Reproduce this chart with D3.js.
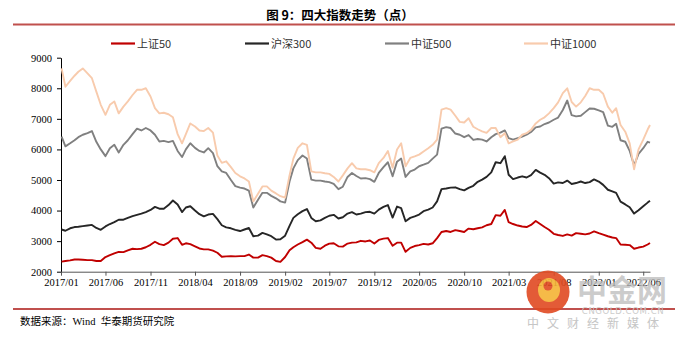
<!DOCTYPE html>
<html><head><meta charset="utf-8">
<script src="https://cdn.jsdelivr.net/npm/d3@7"></script>
<style>
html,body{margin:0;padding:0;background:#fff;}
svg{display:block;}
</style>
</head><body>
<svg id="chart" width="677" height="342"></svg>
<script>
const dates = [
"2017-01-03","2017-01-16","2017-02-01","2017-02-16","2017-03-01","2017-03-16","2017-04-01","2017-04-16","2017-05-01","2017-05-16","2017-06-01","2017-06-16",
"2017-07-01","2017-07-16","2017-08-01","2017-08-16","2017-09-01","2017-09-16","2017-10-01","2017-10-16","2017-11-01","2017-11-16","2017-12-01","2017-12-16",
"2018-01-01","2018-01-16","2018-02-01","2018-02-16","2018-03-01","2018-03-16","2018-04-01","2018-04-16","2018-05-01","2018-05-16","2018-06-01","2018-06-16",
"2018-07-01","2018-07-16","2018-08-01","2018-08-16","2018-09-01","2018-09-16","2018-10-01","2018-10-16","2018-11-01","2018-11-16","2018-12-01","2018-12-16",
"2019-01-01","2019-01-16","2019-02-01","2019-02-16","2019-03-01","2019-03-16","2019-04-01","2019-04-16","2019-05-01","2019-05-16","2019-06-01","2019-06-16",
"2019-07-01","2019-07-16","2019-08-01","2019-08-16","2019-09-01","2019-09-16","2019-10-01","2019-10-16","2019-11-01","2019-11-16","2019-12-01","2019-12-16",
"2020-01-01","2020-01-16","2020-02-01","2020-02-16","2020-03-01","2020-03-16","2020-04-01","2020-04-16","2020-05-01","2020-05-16","2020-06-01","2020-06-16",
"2020-07-01","2020-07-16","2020-08-01","2020-08-16","2020-09-01","2020-09-16","2020-10-01","2020-10-16","2020-11-01","2020-11-16","2020-12-01","2020-12-16",
"2021-01-01","2021-01-16","2021-02-01","2021-02-16","2021-03-01","2021-03-16","2021-04-01","2021-04-16","2021-05-01","2021-05-16","2021-06-01","2021-06-16",
"2021-07-01","2021-07-16","2021-08-01","2021-08-16","2021-09-01","2021-09-16","2021-10-01","2021-10-16","2021-11-01","2021-11-16","2021-12-01","2021-12-16",
"2022-01-01","2022-01-16","2022-02-01","2022-02-16","2022-03-01","2022-03-16","2022-04-01","2022-04-16","2022-05-01","2022-05-16","2022-06-01","2022-06-16",
"2022-06-24"
];

const sz50 = [
2330,2350,2370,2400,2400,2390,2380,2380,2350,2350,2480,2540,
2600,2650,2640,2700,2750,2740,2750,2800,2880,2980,2900,2870,
2950,3080,3100,2880,2930,2900,2830,2760,2730,2730,2690,2620,
2490,2500,2510,2500,2510,2510,2560,2460,2460,2540,2510,2460,
2350,2320,2480,2700,2800,2890,2970,3050,2950,2780,2750,2850,
2920,2930,2830,2820,2920,2950,2960,3010,2990,3020,2920,3040,
3080,3100,2850,2950,2950,2650,2780,2840,2870,2910,2890,2930,
3100,3300,3330,3300,3360,3330,3300,3410,3390,3420,3450,3520,
3560,3850,3830,4020,3620,3560,3510,3480,3460,3530,3660,3560,
3460,3370,3240,3200,3170,3220,3180,3260,3240,3220,3250,3320,
3260,3210,3160,3120,3100,2890,2880,2870,2750,2790,2820,2890,
2940
];
const hs300 = [
3380,3340,3420,3460,3470,3490,3510,3530,3430,3370,3480,3560,
3620,3700,3700,3760,3820,3860,3900,3950,4020,4120,4060,4060,
4180,4330,4200,3950,4100,4140,4000,3880,3810,3870,3890,3720,
3520,3450,3420,3370,3330,3380,3430,3160,3180,3270,3220,3160,
3050,3060,3180,3500,3760,3880,3980,4050,3760,3650,3680,3760,
3830,3860,3740,3780,3900,3950,3870,3900,3950,3960,3900,4030,
4120,4180,3770,4130,4080,3650,3760,3810,3870,3980,4030,4100,
4300,4700,4720,4750,4760,4700,4660,4740,4810,4940,5010,5100,
5250,5580,5550,5780,5170,5030,5080,5120,5080,5160,5330,5240,
5170,5060,4880,4920,4900,4980,4870,4900,4950,4900,4930,5020,
4950,4840,4680,4630,4580,4290,4200,4110,3900,4010,4140,4260,
4320
];
const zz500 = [
6420,6100,6200,6300,6400,6480,6530,6600,6250,6000,5780,6040,
6150,5900,6150,6300,6500,6680,6620,6700,6620,6480,6260,6280,
6240,6280,5950,5750,6000,6200,6050,5950,5900,6040,5880,5450,
5280,5230,5000,4800,4750,4720,4650,4100,4350,4580,4580,4480,
4400,4300,4260,4950,5380,5650,5800,5700,5010,4980,4980,4950,
4930,4870,4700,4780,5100,5230,5130,5050,5060,5030,4940,5230,
5420,5580,5120,5600,5700,5100,5280,5340,5450,5500,5560,5700,
5830,6680,6730,6700,6520,6480,6400,6470,6310,6340,6320,6260,
6400,6500,6550,6620,6370,6320,6370,6420,6480,6570,6720,6750,
6830,6880,6970,7040,7290,7600,7120,7080,7100,7220,7340,7330,
7280,7220,6780,6740,6840,6300,6250,5950,5480,5850,6040,6250,
6220
];
const zz1000 = [
8650,8050,8240,8410,8540,8650,8490,8330,7890,7460,7130,7460,
7570,7180,7400,7570,7780,7950,7950,8000,7730,7350,7180,7200,
7150,7050,6500,6200,6500,6850,6750,6620,6600,6700,6550,5800,
5560,5610,5420,5230,5120,5050,4950,4300,4550,4790,4790,4650,
4560,4470,4420,5150,5700,6050,6200,6150,5280,5250,5250,5220,
5200,5100,4950,5150,5380,5550,5380,5350,5350,5320,5250,5550,
5720,5950,5400,6000,6200,5450,5720,5770,5830,5930,6040,6150,
6320,7300,7350,7300,7100,6900,6880,7020,6740,6660,6590,6540,
6700,6700,6400,6530,6200,6260,6320,6480,6530,6640,6850,6970,
7050,7180,7350,7540,7840,8000,7550,7400,7540,7750,8000,7950,
7950,7820,7400,7200,7350,6800,6580,6200,5350,6000,6320,6650,
6800
];

const seriesNames = ["上证50","沪深300","中证500","中证1000"];
const seriesColors = ["#C00000","#262626","#808080","#F8CBAD"];
const seriesValues = [sz50, hs300, zz500, zz1000];
const yTicks = [2000,3000,4000,5000,6000,7000,8000,9000];
const xTickLabels = ["2017/01","2017/06","2017/11","2018/04","2018/09","2019/02","2019/07","2019/12","2020/05","2020/10","2021/03","2021/08","2022/01","2022/06"];
const titleText = "图 9：四大指数走势（点）";
const sourceText = "数据来源：Wind  华泰期货研究院";

const svg = d3.select("#chart");
const parse = d3.timeParse("%Y-%m-%d");
const parseTick = d3.timeParse("%Y/%m");
const dd = dates.map(parse);

const x = d3.scaleTime().domain([new Date(2017,0,1), new Date(2022,5,24)]).range([61, 650]);
const y = d3.scaleLinear().domain([2000, 9000]).range([271.7, 57.7]);

const ruleColor = "#C0504D";
// title
svg.append("text").attr("x", 340).attr("y", 20).attr("text-anchor","middle")
  .attr("font-family","'Noto Sans CJK SC', sans-serif").attr("font-weight","700")
  .attr("font-size", 12.5).attr("fill","#000").text(titleText);
svg.append("line").attr("x1",13).attr("x2",675).attr("y1",24.5).attr("y2",24.5)
  .attr("stroke", ruleColor).attr("stroke-width",2);

// legend
const legX = [111, 245, 385, 524];
seriesNames.forEach((n,i)=>{
  const g = svg.append("g").attr("transform",`translate(${legX[i]},43.5)`);
  g.append("line").attr("x1",0).attr("x2",24).attr("y1",0).attr("y2",0)
    .attr("stroke", seriesColors[i]).attr("stroke-width",2.2);
  g.append("text").attr("x",26).attr("y",4).attr("font-family","'Noto Sans CJK SC', sans-serif")
    .attr("font-size",11).attr("fill","#333").text(n);
});

// axes
const yAxis = d3.axisLeft(y).tickValues(yTicks).tickSize(4).tickSizeOuter(0).tickPadding(5).tickFormat(d3.format("d"));
const gy = svg.append("g").attr("transform","translate(61,0)").call(yAxis);
gy.selectAll("text").attr("font-family","'Liberation Serif', serif").attr("font-size",10.5).attr("fill","#000");
gy.selectAll("line").attr("stroke","#000");
gy.select(".domain").attr("stroke","#000");

const xAxis = d3.axisBottom(x).tickValues(xTickLabels.map(parseTick)).tickSize(4).tickSizeOuter(0).tickPadding(3)
  .tickFormat((d,i)=>xTickLabels[i]);
const gx = svg.append("g").attr("transform","translate(0,271.7)").call(xAxis);
gx.selectAll("text").attr("font-family","'Liberation Serif', serif").attr("font-size",10.5).attr("fill","#000");
gx.selectAll("line").attr("stroke","#555");
gx.select(".domain").attr("stroke","#555");

// lines
const line = d3.line().x((d,i)=>x(dd[i])).y(d=>y(d));
seriesValues.forEach((vals,i)=>{
  svg.append("path").datum(vals).attr("d", line).attr("fill","none")
    .attr("stroke", seriesColors[i]).attr("stroke-width",1.9).attr("stroke-linejoin","round");
});

// bottom rule + source
svg.append("line").attr("x1",13).attr("x2",675).attr("y1",309).attr("y2",309)
  .attr("stroke", ruleColor).attr("stroke-width",2);
svg.append("text").attr("x",20).attr("y",324.5).attr("font-family","'Liberation Serif','Noto Sans CJK SC', serif")
  .attr("font-size",10.5).attr("fill","#000").attr("xml:space","preserve").style("white-space","pre").text(sourceText);

// watermark
const wm = svg.append("g").attr("opacity",0.9);
wm.append("circle").attr("cx",548).attr("cy",292).attr("r",21.5).attr("fill","#E04A22");
wm.append("ellipse").attr("cx",549).attr("cy",290).attr("rx",11).attr("ry",12).attr("fill","#F5B335");
wm.append("circle").attr("cx",548).attr("cy",286).attr("r",4.5).attr("fill","#E04A22");
wm.append("text").attr("x",622).attr("y",301).attr("text-anchor","middle")
  .attr("font-family","'Noto Sans CJK SC', sans-serif").attr("font-weight","700").attr("font-size",30)
  .attr("fill","#bdbdbd").attr("fill-opacity",0.85).text("中金网");
wm.append("text").attr("x",623).attr("y",314).attr("text-anchor","middle")
  .attr("font-family","'DejaVu Sans', sans-serif").attr("font-size",8.5).attr("letter-spacing",0.6)
  .attr("fill","#c8c8c8").text("CNGOLD.COM.CN");
wm.append("text").attr("x",597).attr("y",328).attr("text-anchor","middle")
  .attr("font-family","'Noto Sans CJK SC', sans-serif").attr("font-size",12).attr("letter-spacing",8)
  .attr("fill","#c0c0c0").text("中文财经新媒体");
</script>
</body></html>
